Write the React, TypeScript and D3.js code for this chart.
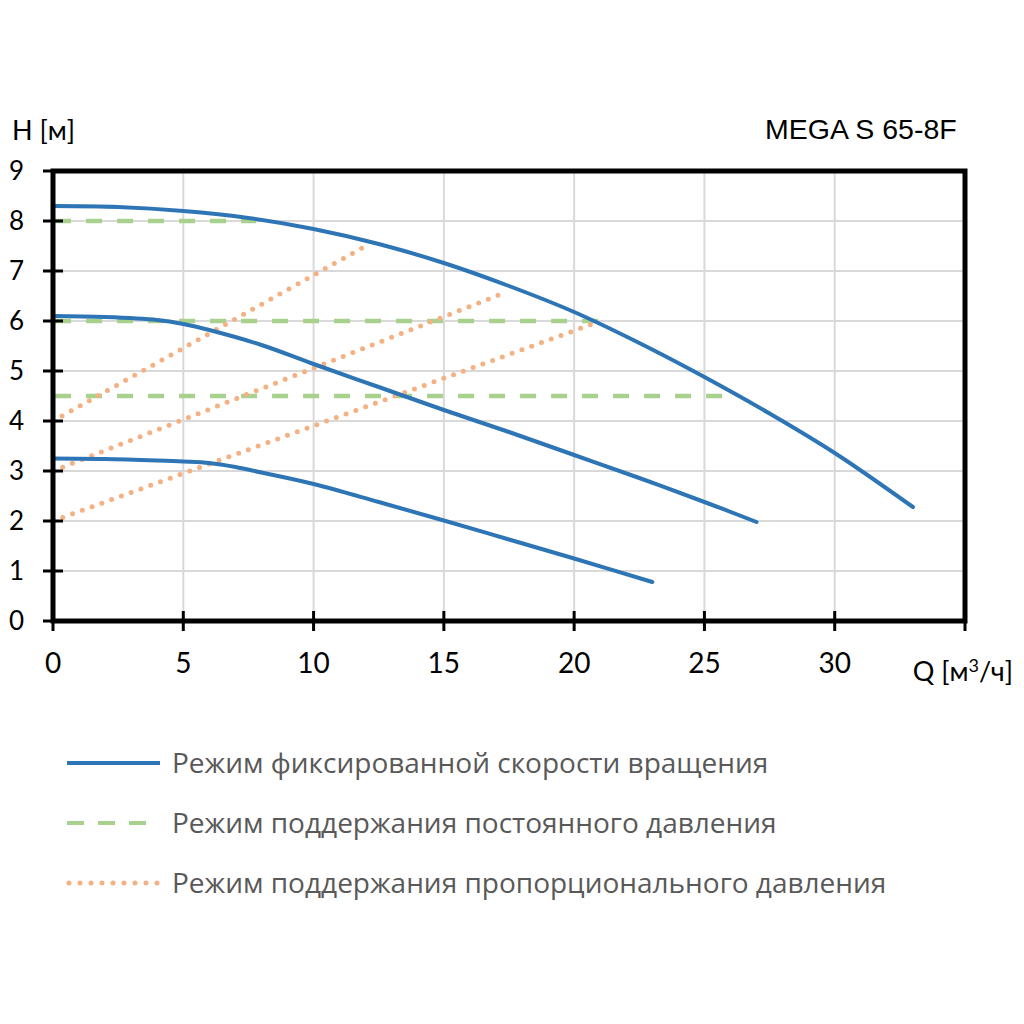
import * as d3 from "d3"
import { useEffect, useRef } from "react"

// curves: Q [m3/h] -> H [m]
const fixedQ1 = [0, 2.5, 5, 7.5, 10, 12.5, 15, 17.5, 20, 22.5, 25, 27.5, 30, 33]
const fixedH1 = [8.3, 8.28, 8.2, 8.06, 7.84, 7.54, 7.16, 6.7, 6.18, 5.56, 4.88, 4.15, 3.36, 2.28]
const fixedQ2 = [0, 2, 4, 5, 6, 8, 10, 12.5, 15, 17.5, 20, 22.5, 25, 27]
const fixedH2 = [6.1, 6.08, 6.02, 5.94, 5.82, 5.52, 5.14, 4.68, 4.22, 3.78, 3.32, 2.86, 2.38, 1.98]
const fixedQ3 = [0, 2, 4, 5, 6, 7, 8, 10, 12.5, 15, 17.5, 20, 23]
const fixedH3 = [3.25, 3.24, 3.21, 3.19, 3.16, 3.08, 2.97, 2.74, 2.38, 2.01, 1.63, 1.25, 0.78]

// constant pressure levels and where they stop
const constH = [8, 6, 4.5]
const constQEnd = [7.8, 21, 26]

// proportional pressure lines: start H at Q=0, end point
const propH0 = [4, 3, 2]
const propQEnd = [12, 17.4, 20.7]
const propHEnd = [7.5, 6.58, 5.94]

const xTicks = [0, 5, 10, 15, 20, 25, 30]
const yTicks = [0, 1, 2, 3, 4, 5, 6, 7, 8, 9]

const legendLabels = [
  "Режим фиксированной скорости вращения",
  "Режим поддержания постоянного давления",
  "Режим поддержания пропорционального давления",
]

const BLUE = "#2e75b6"
const GREEN = "#a9d18e"
const ORANGE = "#f4b183"
const FONT = "Lato, 'Open Sans', sans-serif"

export default function App() {
  const ref = useRef<SVGSVGElement | null>(null)

  useEffect(() => {
    if (!ref.current) return
    const width = 1024
    const height = 1024
    const left = 53
    const right = 965
    const top = 171
    const bottom = 621

    const svg = d3.select(ref.current)
    svg.selectAll("*").remove()
    svg.attr("viewBox", `0 0 ${width} ${height}`)

    const x = d3.scaleLinear().domain([0, 35]).range([left, right])
    const y = d3.scaleLinear().domain([0, 9]).range([bottom, top])

    // grid
    const grid = svg.append("g").attr("stroke", "#d9d9d9").attr("stroke-width", 2)
    grid
      .selectAll("line.v")
      .data(xTicks.slice(1))
      .join("line")
      .attr("x1", (d) => x(d))
      .attr("x2", (d) => x(d))
      .attr("y1", top)
      .attr("y2", bottom)
    grid
      .selectAll("line.h")
      .data(yTicks.slice(1, -1))
      .join("line")
      .attr("x1", left)
      .attr("x2", right)
      .attr("y1", (d) => y(d))
      .attr("y2", (d) => y(d))

    const line = d3
      .line<[number, number]>()
      .x((d) => x(d[0]))
      .y((d) => y(d[1]))

    // constant pressure (dashed green)
    svg
      .append("g")
      .selectAll("path")
      .data(constH.map((h, i) => [[0.08, h], [constQEnd[i], h]] as [number, number][]))
      .join("path")
      .attr("d", (d) => line(d))
      .attr("fill", "none")
      .attr("stroke", GREEN)
      .attr("stroke-width", 4.5)
      .attr("stroke-dasharray", "16 15")

    // proportional pressure (dotted orange)
    svg
      .append("g")
      .selectAll("path")
      .data(propH0.map((h, i) => [[0, h], [propQEnd[i], propHEnd[i]]] as [number, number][]))
      .join("path")
      .attr("d", (d) => line(d))
      .attr("fill", "none")
      .attr("stroke", ORANGE)
      .attr("stroke-width", 5)
      .attr("stroke-linecap", "round")
      .attr("stroke-dasharray", "0 10.4")

    // fixed speed curves (blue)
    const fixed = [
      d3.zip(fixedQ1, fixedH1),
      d3.zip(fixedQ2, fixedH2),
      d3.zip(fixedQ3, fixedH3),
    ] as [number, number][][]
    const smooth = d3
      .line<[number, number]>()
      .x((d) => x(d[0]))
      .y((d) => y(d[1]))
      .curve(d3.curveCatmullRom.alpha(0.5))
    svg
      .append("g")
      .selectAll("path")
      .data(fixed)
      .join("path")
      .attr("d", (d) => smooth(d))
      .attr("fill", "none")
      .attr("stroke", BLUE)
      .attr("stroke-width", 4)
      .attr("stroke-linecap", "round")

    // frame
    svg
      .append("rect")
      .attr("x", left)
      .attr("y", top)
      .attr("width", right - left)
      .attr("height", bottom - top)
      .attr("fill", "none")
      .attr("stroke", "#000")
      .attr("stroke-width", 5)

    // cross ticks
    const ticks = svg.append("g").attr("stroke", "#000").attr("stroke-width", 3)
    ticks
      .selectAll("line.x")
      .data([...xTicks, 35])
      .join("line")
      .attr("x1", (d) => x(d))
      .attr("x2", (d) => x(d))
      .attr("y1", bottom - 10)
      .attr("y2", bottom + 10)
    ticks
      .selectAll("line.y")
      .data(yTicks)
      .join("line")
      .attr("x1", left - 10)
      .attr("x2", left + 10)
      .attr("y1", (d) => y(d))
      .attr("y2", (d) => y(d))

    // tick labels
    svg
      .append("g")
      .attr("font-family", FONT)
      .attr("font-size", 26)
      .attr("fill", "#000")
      .selectAll("text")
      .data(yTicks)
      .join("text")
      .attr("x", 24)
      .attr("y", (d) => y(d) + 9)
      .attr("text-anchor", "end")
      .text((d) => d)

    svg
      .append("g")
      .attr("font-family", FONT)
      .attr("font-size", 28)
      .attr("fill", "#000")
      .selectAll("text")
      .data(xTicks)
      .join("text")
      .attr("x", (d) => x(d))
      .attr("y", 673)
      .attr("text-anchor", "middle")
      .text((d) => d)

    // axis titles
    svg
      .append("text")
      .attr("x", 12)
      .attr("y", 140)
      .attr("font-family", FONT)
      .attr("font-size", 27)
      .text("H [м]")

    const q = svg
      .append("text")
      .attr("x", 1013)
      .attr("y", 681)
      .attr("text-anchor", "end")
      .attr("font-family", FONT)
      .attr("font-size", 27)
    q.append("tspan").text("Q [м")
    q.append("tspan").attr("dy", -9).attr("font-size", 18).text("3")
    q.append("tspan").attr("dy", 9).text("/ч]")

    svg
      .append("text")
      .attr("x", 765)
      .attr("y", 139)
      .attr("font-family", "'Liberation Sans', Arial, sans-serif")
      .attr("font-size", 28.5)
      .text("MEGA S 65-8F")

    // legend
    const styles = [
      { color: BLUE, dash: null as string | null, cap: "butt" },
      { color: GREEN, dash: "17 14", cap: "butt" },
      { color: ORANGE, dash: "0 11", cap: "round" },
    ]
    const lg = svg
      .append("g")
      .selectAll("g")
      .data(legendLabels)
      .join("g")
      .attr("transform", (_, i) => `translate(0,${763 + i * 60})`)
    lg.append("line")
      .attr("x1", (_, i) => (i === 2 ? 69 : 67))
      .attr("x2", 160)
      .attr("stroke", (_, i) => styles[i].color)
      .attr("stroke-width", (_, i) => (i === 2 ? 5 : 4))
      .attr("stroke-linecap", (_, i) => styles[i].cap)
      .attr("stroke-dasharray", (_, i) => styles[i].dash)
    lg.append("text")
      .attr("x", 172)
      .attr("y", 10)
      .attr("font-family", "'Open Sans', Lato, sans-serif")
      .attr("font-size", 28)
      .attr("fill", "#595959")
      .text((d) => d)
  }, [])

  return (
    <svg
      ref={ref}
      width={1024}
      height={1024}
      style={{ position: "absolute", left: 0, top: 0, display: "block", background: "#fff" }}
    />
  )
}
